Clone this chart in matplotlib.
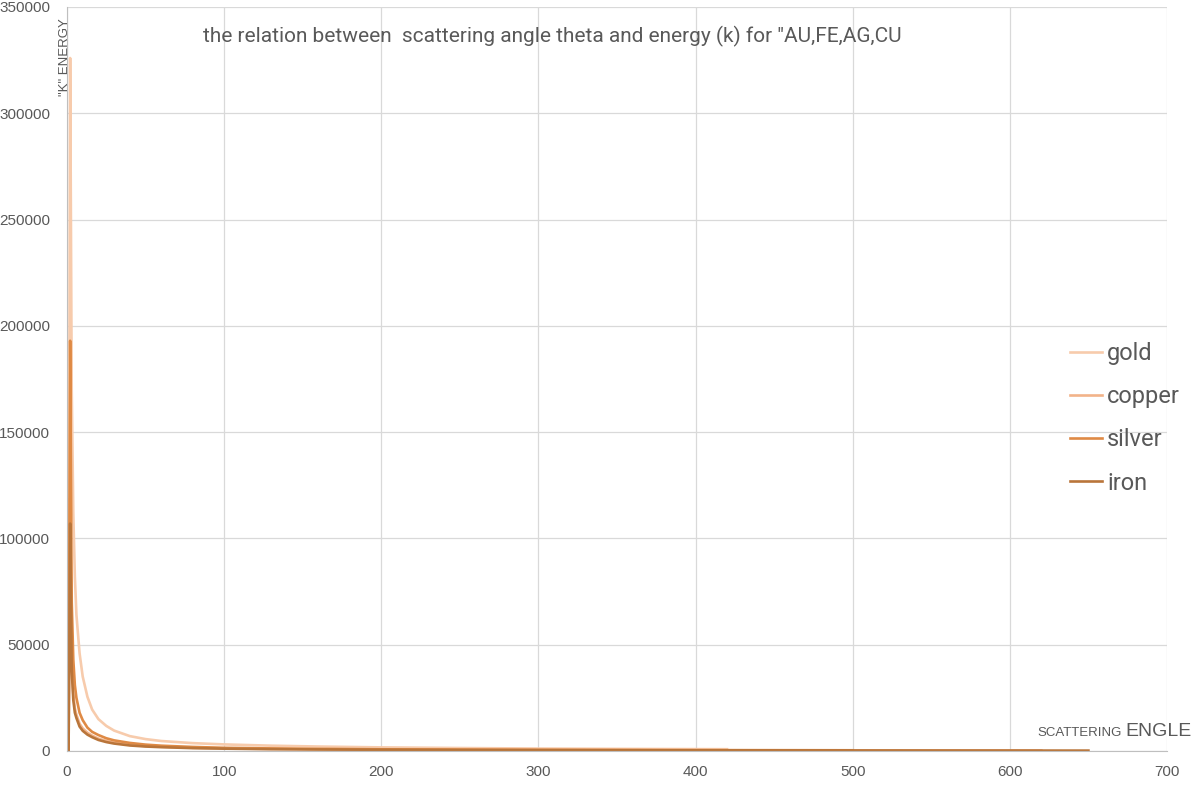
import matplotlib
matplotlib.use("Agg")
import matplotlib.pyplot as plt

# scattering angle / energy readings
gold_x = [1, 2, 3, 4, 5, 6, 8, 10, 13, 16, 20, 25, 30, 40, 50, 60, 80, 100,
          130, 160, 200, 250, 300, 350, 420]
gold_k = [0, 326000, 170000, 112000, 82000, 64000, 46000, 35000, 25500, 19500,
          15000, 11800, 9600, 7000, 5600, 4700, 3700, 3100, 2500, 2100, 1700,
          1400, 1150, 1000, 850]

copper_x = [1, 2, 3, 4, 5, 6, 8, 10, 13, 16, 20, 25, 30, 40, 50, 60, 80, 100,
            130, 160, 200, 250, 300, 400, 500, 620]
copper_k = [0, 119000, 42000, 27000, 20000, 17000, 12800, 10600, 8600, 7200,
            5800, 4700, 3900, 2900, 2350, 2000, 1500, 1230, 960, 800, 650, 530,
            450, 340, 280, 220]

silver_x = [1, 2, 3, 4, 5, 6, 8, 10, 13, 16, 20, 25, 30, 40, 50, 60, 80, 100,
            130, 160, 200, 250, 300, 400, 500]
silver_k = [0, 193000, 70000, 43000, 31000, 25000, 18000, 14500, 11000, 9000,
            7500, 6000, 5000, 3800, 3000, 2500, 1900, 1500, 1200, 1000, 800,
            650, 550, 420, 340]

iron_x = [1, 2, 3, 4, 5, 6, 8, 10, 13, 16, 20, 25, 30, 40, 50, 60, 80, 100,
          130, 160, 200, 250, 300, 400, 500, 650]
iron_k = [0, 107000, 38000, 24000, 18000, 15500, 11500, 9500, 7700, 6500,
          5200, 4200, 3500, 2600, 2100, 1800, 1350, 1100, 860, 720, 580, 470,
          400, 300, 250, 190]

series = [("gold", gold_x, gold_k, "#F7CBAC"),
          ("copper", copper_x, copper_k, "#F2B389"),
          ("silver", silver_x, silver_k, "#DF8A45"),
          ("iron", iron_x, iron_k, "#B9753A")]

grey = "#595959"

fig = plt.figure(figsize=(11.95, 7.92), dpi=100)
ax = fig.add_axes([67/1195, 1-751/792, 1100/1195, 744/792])

for name, xs, ks, col in series:
    ax.plot(xs, ks, color=col, lw=1.9, label=name, solid_joinstyle="round")

ax.set_xlim(0, 700)
ax.set_ylim(0, 350000)
ax.set_xticks(range(0, 701, 100))
ax.set_yticks(range(0, 350001, 50000))
ax.grid(True, color="#D9D9D9", lw=0.9)
ax.set_axisbelow(True)
for s in ["top", "right"]:
    ax.spines[s].set_visible(False)
for s in ["left", "bottom"]:
    ax.spines[s].set_color("#BFBFBF")
ax.tick_params(length=0, labelsize=11, labelcolor=grey)
ax.tick_params(axis="y", pad=12)
ax.tick_params(axis="x", pad=10)
for lab in ax.get_xticklabels() + ax.get_yticklabels():
    lab.set_family("Liberation Sans")

fig.text(203/1195, 1-36/792,
         "the relation between  scattering angle theta and energy (k) for \"AU,FE,AG,CU",
         fontsize=15, color=grey, family="Roboto", va="center", ha="left")
fig.text(64.5/1195, 1-18/792, "\"K\" ENERGY", rotation=90, fontsize=9.5,
         color=grey, va="top", ha="center", family="Liberation Sans")
fig.text(1122/1195, 1-736/792, "SCATTERING", fontsize=9.5, color=grey,
         ha="right", va="baseline", family="Liberation Sans")
fig.text(1125/1195, 1-736/792, "ENGLE", fontsize=14, color=grey,
         ha="left", va="baseline", family="Liberation Sans")

leg = ax.legend(loc="center left", bbox_to_anchor=(0.8927, 0.447),
                frameon=False, prop={"family": "Roboto", "size": 17},
                handlelength=1.36, handletextpad=0.21, labelspacing=0.85)
for t in leg.get_texts():
    t.set_color(grey)

fig.savefig("out.png", dpi=100)
